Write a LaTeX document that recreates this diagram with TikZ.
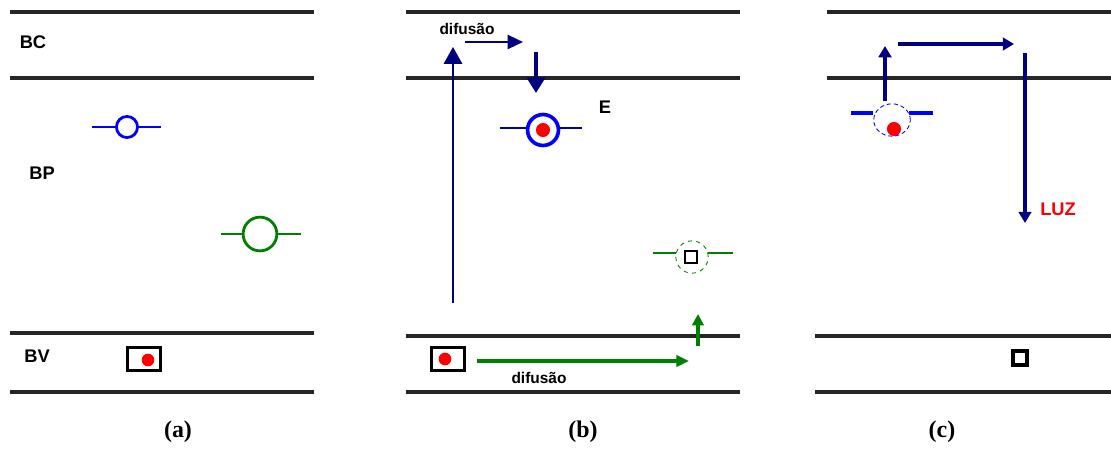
\documentclass[tikz,border=0pt]{standalone}
\usepackage{fontspec}
\setmainfont{Liberation Serif}
\setsansfont{Liberation Sans}
\usetikzlibrary{arrows.meta,positioning,shapes.geometric}
\definecolor{navy}{RGB}{0,0,128}
\definecolor{dkgreen}{RGB}{0,128,0}
\begin{document}
\begin{tikzpicture}[x=0.025cm, y=-0.025cm,
        band/.style={line width=2.2pt, black!85},
        lbl/.style={font=\sffamily\bfseries\fontsize{13}{15}\selectfont, inner sep=0pt},
        small/.style={font=\sffamily\bfseries\fontsize{11}{13}\selectfont, inner sep=0pt},
        caption/.style={font=\bfseries\fontsize{17}{19}\selectfont, inner sep=0pt},
        level/.style={line width=1.4pt},
        trap/.style={circle, draw, inner sep=0pt},
        hole/.style={rectangle, draw=black, line width=2.2pt, inner sep=0pt},
        dot/.style={circle, fill=red, inner sep=0pt, minimum size=9pt},
        bigarrow/.style={navy, line width=2.2pt, -{Triangle[length=11pt, width=13pt]}},
        arrow/.style={navy, line width=2.4pt, -{Triangle[length=8pt, width=9pt]}}]
        \useasboundingbox (0,0) rectangle (1111,448);

        % Panel (a)
        \foreach \y in {12,78,333,392}
            \draw[band] (10,\y) -- (314,\y);
        \node[lbl] (bca) at (33,42) {BC};
        \node[lbl] (bpa) at (42,173) {BP};
        \node[lbl] (bva) at (37,356) {BV};
        \draw[level, blue] (92,127) -- (161,127);
        \node[trap, blue, fill=white, line width=2pt, minimum size=15pt] (ea) at (127,127) {};
        \draw[level, dkgreen] (221,234) -- (301,234);
        \node[trap, dkgreen, fill=white, line width=2pt, minimum size=24pt] (ha) at (260,234) {};
        \node[hole, minimum width=24pt, minimum height=16pt] (boxa) at (144,359) {};
        \node[dot] (ra) at (148,360) {};
        \node[caption] (capa) at (178,432) {(a)};

        % Panel (b)
        \foreach \y in {12,78,336,392}
            \draw[band] (406,\y) -- (740,\y);
        \coordinate (b1) at (453,303);
        \coordinate (b2) at (453,47);
        \draw[navy, line width=1.5pt, -{Triangle[length=12pt, width=13pt]}] (b1) -- (b2);
        \node[small] (difb) at (467,29) {difusão};
        \coordinate (b3) at (465,42);
        \coordinate (b4) at (523,42);
        \draw[navy, line width=1.8pt, -{Triangle[length=11pt, width=10pt]}] (b3) -- (b4);
        \coordinate (b5) at (536,52);
        \coordinate (b5e) at (536,93);
        \draw[level, navy!70!blue] (500,128) -- (582,128);
        \node[trap, blue, fill=white, line width=2.6pt, minimum size=22pt] (eb) at (543,130) {};
        \node[dot, minimum size=10pt] (rb) at (543,130) {};
        \draw[bigarrow] (b5) -- (b5e);
        \node[lbl] (eTxt) at (605,107) {E};
        \draw[level, dkgreen] (653,253) -- (733,253);
        \node[trap, dkgreen, fill=white, dashed, line width=0.6pt, minimum size=23pt] (hb) at (692,257) {};
        \node[hole, line width=1.6pt, minimum size=9pt] (sqb) at (691,257) {};
        \coordinate (b6) at (698,346);
        \coordinate (b6e) at (698,314);
        \draw[dkgreen, line width=2.4pt, -{Triangle[length=8pt, width=8pt]}] (b6) -- (b6e);
        \node[hole, minimum width=24pt, minimum height=16pt] (boxb) at (448,359) {};
        \node[dot] (rb2) at (445,359) {};
        \coordinate (b7) at (477,361);
        \coordinate (b8) at (689,361);
        \draw[dkgreen, line width=2.4pt, -{Triangle[length=9pt, width=8pt]}] (b7) -- (b8);
        \node[small] (difb2) at (539,378) {difusão};
        \node[caption] (capb) at (583,432) {(b)};

        % Panel (c)
        \foreach \y in {12,78}
            \draw[band] (827,\y) -- (1111,\y);
        \foreach \y in {336,392}
            \draw[band] (815,\y) -- (1111,\y);
        \draw[blue, line width=3pt] (851,113) -- (873,113) (909,113) -- (933,113);
        \node[ellipse, draw, blue, fill=white, densely dashed, line width=0.6pt, inner sep=0pt, minimum width=26pt, minimum height=23pt] (ec) at (892,120) {};
        \node[dot, minimum size=10pt] (rc) at (894,129) {};
        \coordinate (c1) at (885,101);
        \coordinate (c2) at (885,46);
        \draw[arrow] (c1) -- (c2);
        \coordinate (c3) at (898,44);
        \coordinate (c4) at (1014,44);
        \draw[arrow] (c3) -- (c4);
        \coordinate (c5) at (1025,53);
        \coordinate (c6) at (1025,223);
        \draw[arrow] (c5) -- (c6);
        \node[font=\sffamily\bfseries\fontsize{13}{15}\selectfont, text=red, anchor=west, inner sep=0pt] (luz) at (1040,209) {LUZ};
        \node[hole, line width=2.6pt, minimum size=10pt] (sqc) at (1020,358) {};
        \node[caption] (capc) at (942,432) {(c)};
    \end{tikzpicture}
\end{document}
